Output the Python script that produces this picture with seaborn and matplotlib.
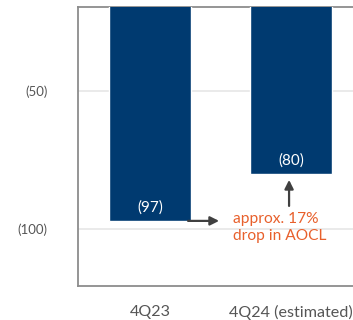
import matplotlib
matplotlib.use("Agg")
import matplotlib.pyplot as plt
import seaborn as sns
import pandas as pd

categories = ["4Q23", "4Q24 (estimated)"]
values = [-97, -80]
bar_labels = ["(97)", "(80)"]
ytick_values = [-50, -100]
ytick_labels = ["(50)", "(100)"]
annotation_text = "approx. 17%\ndrop in AOCL"

BAR_COLOR = "#003a70"
ORANGE = "#e8602c"
ARROW = "#404040"
TEXT_GRAY = "#555555"

sns.set_style("white")
plt.rcParams["font.family"] = ["Lato", "DejaVu Sans"]

df = pd.DataFrame({"cat": categories, "val": values})

fig = plt.figure(figsize=(3.53, 3.2), dpi=100)
ax = fig.add_axes([78 / 353, 34 / 320, 285 / 353, 279 / 320])

sns.barplot(data=df, x="cat", y="val", color=BAR_COLOR, saturation=1,
            width=0.58, ax=ax, zorder=3)

ax.set_ylim(-120.5, -19.8)
ax.set_xlim(-0.51, 1.51)
ax.set_yticks(ytick_values)
ax.set_yticklabels(ytick_labels)
ax.yaxis.grid(True, color="#e6e6e6", linewidth=1.2, zorder=0)
ax.set_axisbelow(True)
ax.set_xlabel("")
ax.set_ylabel("")
ax.tick_params(axis="y", length=0, pad=22, labelsize=9.5, labelcolor=TEXT_GRAY)
ax.tick_params(axis="x", length=0, pad=13.5, labelsize=11.6, labelcolor=TEXT_GRAY)

for side in ["left", "bottom", "top", "right"]:
    ax.spines[side].set_color("#8c8c8c")
    ax.spines[side].set_linewidth(1.3)

ax.bar_label(ax.containers[0], labels=bar_labels, padding=-15,
             color="white", fontsize=11)

# arrows
ax.annotate("", xy=(0.49, values[0]), xytext=(0.27, values[0]),
            arrowprops=dict(arrowstyle="-|>", color=ARROW, lw=1.6,
                            mutation_scale=13, shrinkA=0, shrinkB=0),
            zorder=4)
ax.annotate("", xy=(0.986, values[1] - 2.2), xytext=(0.986, values[1] - 11.6),
            arrowprops=dict(arrowstyle="-|>", color=ARROW, lw=1.6,
                            mutation_scale=13, shrinkA=0, shrinkB=0),
            zorder=4)

ax.text(0.59, -99.4, annotation_text, color=ORANGE, fontsize=11.2,
        ha="left", va="center", linespacing=1.25, zorder=5)

fig.savefig("out.png", dpi=100)
